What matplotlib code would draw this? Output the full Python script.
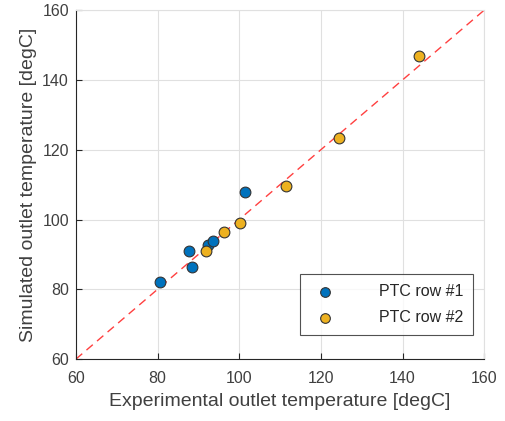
import numpy as np
import matplotlib.pyplot as plt

plt.rcParams['font.family'] = ['Liberation Sans', 'DejaVu Sans']

# PTC row #1
exp_row1 = [80.6, 87.8, 88.5, 92.4, 93.5, 101.3]
sim_row1 = [82.1, 90.9, 86.3, 92.7, 93.7, 107.9]

# PTC row #2
exp_row2 = [91.9, 96.3, 100.3, 111.5, 124.5, 144.1]
sim_row2 = [91.0, 96.4, 99.0, 109.6, 123.3, 146.8]

ticks = [60, 80, 100, 120, 140, 160]

fig = plt.figure(figsize=(5.06, 4.21), dpi=100)
ax = fig.add_axes([0.150, 0.147, 0.807, 0.829])

ax.plot([60, 160], [60, 160], linestyle=(0, (6, 4)), color='#ff4040', lw=1.0, zorder=2)
ax.scatter(exp_row1, sim_row1, s=60, color=(0, 0.447, 0.741), edgecolor='#333333',
           linewidth=0.8, label='PTC row #1', zorder=3)
ax.scatter(exp_row2, sim_row2, s=60, color=(0.929, 0.694, 0.125), edgecolor='#333333',
           linewidth=0.8, label='PTC row #2', zorder=3)

ax.set_xlim(60, 160)
ax.set_ylim(60, 160)
ax.set_xticks(ticks)
ax.set_yticks(ticks)
ax.grid(True, color='#e0e0e0', lw=0.8)
ax.set_axisbelow(True)

for s in ['left', 'bottom']:
    ax.spines[s].set_color('#262626')
for s in ['top', 'right']:
    ax.spines[s].set_color('#e0e0e0')
ax.tick_params(direction='in', length=4, color='#262626', labelcolor='#404040', labelsize=11.5)
ax.tick_params(axis='x', pad=8.5)
ax.tick_params(axis='y', pad=5)

ax.set_xlabel('Experimental outlet temperature [degC]', fontsize=14, color='#404040', labelpad=5)
ax.set_ylabel('Simulated outlet temperature [degC]', fontsize=14, color='#404040', labelpad=4)

leg = ax.legend(loc='lower right', fontsize=11.5, frameon=True, fancybox=False,
                edgecolor='#262626', borderpad=0.6, handletextpad=2.4,
                labelspacing=0.7, markerscale=0.9, bbox_to_anchor=(0.993, 0.047))
leg.get_frame().set_linewidth(0.8)
for t in leg.get_texts():
    t.set_color('#262626')

fig.savefig('out.png', dpi=100)
